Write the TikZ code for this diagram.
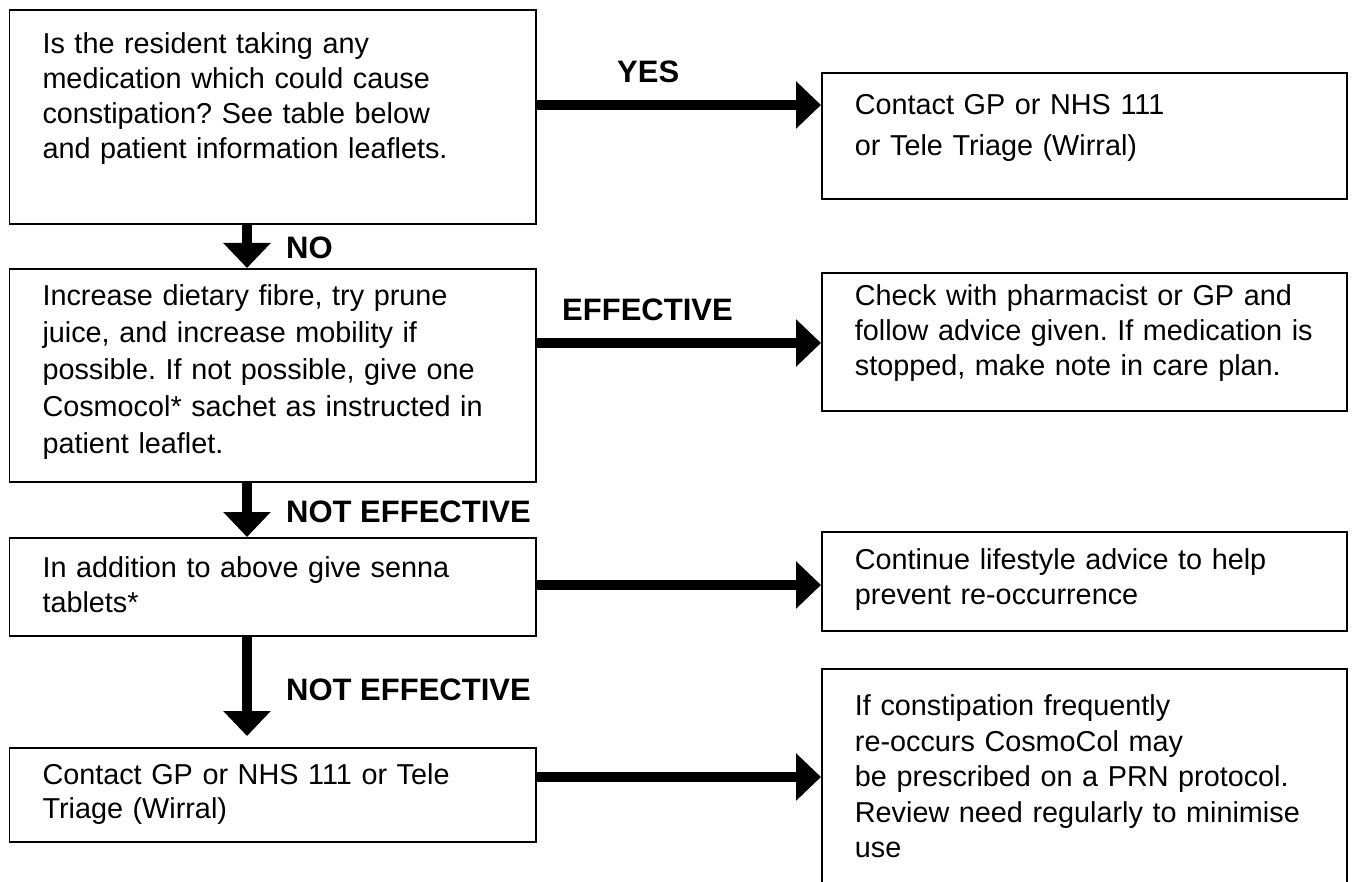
\documentclass[tikz,border=0pt]{standalone}
\usepackage{fontspec}
\setmainfont{Liberation Sans}
\usetikzlibrary{arrows.meta}
\newcommand{\bodyfont}{\fontsize{28.8}{35}\selectfont\frenchspacing}
\newcommand{\choicefont}{\fontsize{31}{36}\selectfont\bfseries}
\tikzset{
  box/.style={draw,line width=1.8pt,anchor=north west,inner xsep=33pt,inner ysep=0pt,align=left,font=\bodyfont},
  leftbox/.style={box,text width=460.4pt},
  rightbox/.style={box,text width=459pt},
  fatarrow/.style={line width=10pt,-{Triangle[width=46pt,length=25pt]}},
  choice/.style={anchor=west,inner sep=0pt,font=\choicefont}
}

\begin{document}
\begin{tikzpicture}[x=1pt,y=-1pt]
  \clip (0,0) rectangle (1352,882);
  % left column
  \node[leftbox,text height=44pt,text depth=170pt] (ask) at (8.6,9)
    {Is the resident taking any\\medication which could cause\\constipation? See table below\\and patient information leaflets.};
  \node[leftbox,text height=37pt,text depth=176pt,font=\fontsize{28.8}{37}\selectfont\frenchspacing] (fibre) at (8.6,268)
    {Increase dietary fibre, try prune\\juice, and increase mobility if\\possible. If not possible, give one\\Cosmocol* sachet as instructed in\\patient leaflet.};
  \node[leftbox,text height=40pt,text depth=58pt] (senna) at (8.6,537)
    {In addition to above give senna\\tablets*};
  \node[leftbox,text height=37pt,text depth=57pt,font=\fontsize{28.8}{34}\selectfont\frenchspacing] (gp) at (8.6,747)
    {Contact GP or NHS 111 or Tele\\Triage (Wirral)};
  % right column
  \node[rightbox,text height=42pt,text depth=84pt,font=\fontsize{28.8}{41}\selectfont\frenchspacing] (contact) at (821,72)
    {Contact GP or NHS 111\\or Tele Triage (Wirral)};
  \node[rightbox,text height=33pt,text depth=105pt] (check) at (821,272)
    {Check with pharmacist or GP and\\follow advice given. If medication is\\stopped, make note in care plan.};
  \node[rightbox,text height=38pt,text depth=61pt] (lifestyle) at (821,531)
    {Continue lifestyle advice to help\\prevent re-occurrence};
  \node[rightbox,text height=47pt,text depth=185pt,font=\fontsize{28.8}{35.5}\selectfont\frenchspacing] (prn) at (821,668)
    {If constipation frequently\\re-occurs CosmoCol may\\be prescribed on a PRN protocol.\\Review need regularly to minimise\\use};

  % rows and column of the arrows
  \coordinate (down) at (247,0);
  \coordinate (row1) at (0,105);
  \coordinate (row2) at (0,343);
  \coordinate (row3) at (0,585);
  \coordinate (row4) at (0,777);

  \draw[fatarrow] (ask.south -| down) -- (fibre.north -| down);
  \draw[fatarrow] (fibre.south -| down) -- (senna.north -| down);
  \draw[fatarrow,shorten >=11pt] (senna.south -| down) -- (gp.north -| down);
  \draw[fatarrow] (ask.east |- row1) -- (contact.west |- row1);
  \draw[fatarrow] (fibre.east |- row2) -- (check.west |- row2);
  \draw[fatarrow] (senna.east |- row3) -- (lifestyle.west |- row3);
  \draw[fatarrow] (gp.east |- row4) -- (prn.west |- row4);

  \node[choice] (yes) at (617,72) {YES};
  \node[choice] (no) at (286,248) {NO};
  \node[choice] (effective) at (562,310) {EFFECTIVE};
  \node[choice] (noteff1) at (286,512) {NOT EFFECTIVE};
  \node[choice] (noteff2) at (286,690) {NOT EFFECTIVE};
\end{tikzpicture}
\end{document}
